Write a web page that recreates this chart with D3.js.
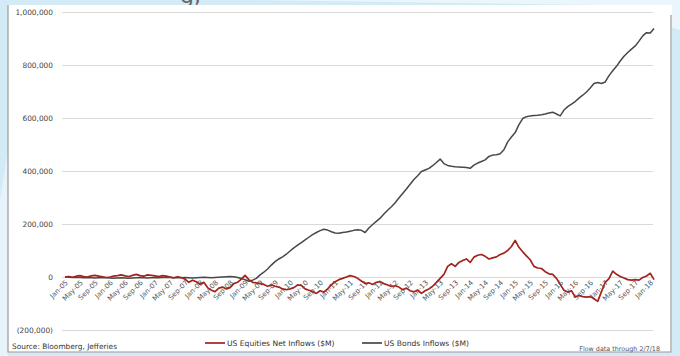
<!DOCTYPE html>
<html>
<head>
<meta charset="utf-8">
<script src="https://cdn.jsdelivr.net/npm/d3@7"></script>
<style>
  body { margin: 0; padding: 0; background: #d3ebf6; }
  svg { display: block; font-family: "DejaVu Sans", "Open Sans", sans-serif; }
</style>
</head>
<body>
<div id="chart"></div>
<script>
// DATA (monthly, Jan-05 .. Feb-18, values in $M)
let tick_labels = [
  "Jan-05", "May-05", "Sep-05", "Jan-06", "May-06", "Sep-06", "Jan-07", "May-07",
  "Sep-07", "Jan-08", "May-08", "Sep-08", "Jan-09", "May-09", "Sep-09", "Jan-10",
  "May-10", "Sep-10", "Jan-11", "May-11", "Sep-11", "Jan-12", "May-12", "Sep-12",
  "Jan-13", "May-13", "Sep-13", "Jan-14", "May-14", "Sep-14", "Jan-15", "May-15",
  "Sep-15", "Jan-16", "May-16", "Sep-16", "Jan-17", "May-17", "Sep-17", "Jan-18",
];

let y_ticks = [-200000, 0, 200000, 400000, 600000, 800000, 1000000];

// thousands of $M
let bonds_k = [
  0, -1, -2, -1, -2, -3, -2, -3, -4, -3, -2, -3, -4, -5, -4, -3,
  -4, -5, -4, -3, -2, -3, -4, -3, -2, -3, -2, -1, -2, -3, -2, -3,
  -2, -3, -4, -3, -2, -1, -2, -3, -2, -1, 0, 1, 2, 1, -2, -6,
  -10, -16, -12, -5, 8, 18, 30, 45, 58, 68, 76, 86, 98, 110, 120, 130,
  140, 150, 160, 168, 175, 180, 177, 171, 166, 165, 168, 170, 173, 176, 178, 176,
  168, 185, 198, 210, 222, 238, 252, 265, 280, 298, 315, 332, 350, 368, 382, 398,
  404, 410, 420, 432, 445, 428, 421, 418, 416, 415, 414, 413, 410, 422, 430, 436,
  442, 455, 460, 461, 465, 480, 510, 528, 545, 575, 598, 605, 608, 609, 610, 612,
  615, 619, 622, 615, 608, 630, 643, 652, 662, 675, 686, 698, 713, 730, 734, 730,
  736, 760, 778, 795, 815, 833, 847, 860, 872, 890, 910, 922, 921, 938,
];

let equities_k = [
  0, 2, -1, 3, 5, 2, 0, 4, 6, 3, 1, -2, 0, 3, 5, 8,
  4, 2, 6, 10, 5, 3, 8, 6, 4, 2, 5, 3, 0, -3, 1, -2,
  -8, -20, -12, -18, -28, -20, -40, -50, -55, -42, -38, -45, -40, -25, -20, -8,
  6, -10, -20, -22, -25, -28, -35, -30, -35, -38, -45, -48, -45, -40, -30, -32,
  -45, -50, -55, -62, -52, -57, -45, -30, -18, -10, -5, 0, 5, 2, -5, -15,
  -25, -22, -28, -20, -18, -25, -30, -36, -33, -38, -48, -42, -52, -56, -50, -62,
  -52, -45, -35, -20, -5, 10, 40, 50, 40, 55, 62, 68, 55, 75, 82, 85,
  78, 68, 72, 76, 85, 90, 100, 115, 138, 112, 95, 80, 65, 40, 34, 32,
  20, 12, 10, -5, -28, -50, -57, -52, -75, -70, -74, -76, -74, -82, -92, -55,
  -20, -6, 22, 10, 2, -4, -10, -12, -10, -12, -2, 4, 14, -10,
];

let series_names = ["US Equities Net Inflows ($M)", "US Bonds Inflows ($M)"];
let source_text = "Source: Bloomberg, Jefferies";
let note_text = "Flow data through 2/7/18";

// LAYOUT
let width = 680;
let height = 356;
let panel = { left: 8, top: 5, right: 672, bottom: 352 };

let svg = d3
  .select("#chart")
  .append("svg")
  .attr("width", width)
  .attr("height", height);

// slide background
svg.append("rect").attr("width", width).attr("height", height).attr("fill", "#d3ebf6");
svg
  .append("path")
  .attr("d", "M250,0 L680,0 L680,30 L600,5 Z")
  .attr("fill", "#eaf6fb");
svg
  .append("path")
  .attr("d", "M0,200 L8,150 L8,356 L0,356 Z")
  .attr("fill", "#e6f3fa");
// bottom of the slide title, cut off by the crop
svg
  .append("text")
  .attr("x", 180)
  .attr("y", 3)
  .attr("font-size", 22)
  .attr("fill", "#666")
  .text("g,");

// white chart panel
svg
  .append("rect")
  .attr("x", panel.left)
  .attr("y", panel.top)
  .attr("width", panel.right - panel.left)
  .attr("height", panel.bottom - panel.top)
  .attr("fill", "#ffffff");
svg
  .append("path")
  .attr("d", `M${panel.left},${panel.top} V${panel.bottom} H${panel.right - 1} V${panel.top + 10}`)
  .attr("fill", "none")
  .attr("stroke", "#9a9a9a")
  .attr("stroke-width", 1.2);

// SCALES
let x = d3.scaleLinear().domain([0, bonds_k.length - 1]).range([65, 654]);
let y = d3.scaleLinear().domain([-200000, 1000000]).range([330, 12]);

// gridlines + y labels
let y_axis = svg.append("g").attr("transform", "translate(62,0)");
y_axis.call(
  d3
    .axisLeft(y)
    .tickValues(y_ticks)
    .tickSize(-591)
    .tickPadding(9)
    .tickFormat((d) => (d < 0 ? "(" + d3.format(",")(-d) + ")" : d3.format(",")(d)))
);
y_axis.select(".domain").remove();
y_axis.selectAll(".tick line").attr("stroke", "#d9d9d9").attr("stroke-width", 1.2);
y_axis
  .selectAll(".tick text")
  .attr("fill", "#444")
  .attr("font-size", 7.4)
  .attr("font-family", "'DejaVu Sans', sans-serif");

// x axis labels, rotated
let x_axis = svg.append("g").attr("transform", "translate(0," + y(0) + ")");
x_axis.call(
  d3
    .axisBottom(x)
    .tickValues(d3.range(0, tick_labels.length * 4, 4))
    .tickSize(0)
    .tickPadding(0)
    .tickFormat((d) => tick_labels[d / 4])
);
x_axis.select(".domain").remove();
x_axis
  .selectAll(".tick text")
  .attr("fill", "#555")
  .attr("font-size", 7)
  .attr("font-family", "'DejaVu Sans', sans-serif")
  .attr("text-anchor", "end")
  .attr("dy", 0)
  .attr("transform", "translate(3,6) rotate(-45)");

// LINES
let line = d3
  .line()
  .x((d, i) => x(i))
  .y((d) => y(d * 1000));

svg
  .append("path")
  .datum(bonds_k)
  .attr("fill", "none")
  .attr("stroke", "#484848")
  .attr("stroke-width", 1.5)
  .attr("stroke-linejoin", "round")
  .attr("d", line);

svg
  .append("path")
  .datum(equities_k)
  .attr("fill", "none")
  .attr("stroke", "#a3231d")
  .attr("stroke-width", 1.7)
  .attr("stroke-linejoin", "round")
  .attr("d", line);

// LEGEND
let legend_items = [
  { name: series_names[0], color: "#a3231d", x: 205 },
  { name: series_names[1], color: "#484848", x: 362 },
];
let legend = svg
  .selectAll(".legend")
  .data(legend_items)
  .enter()
  .append("g")
  .attr("class", "legend")
  .attr("transform", (d) => "translate(" + d.x + ",343)");
legend
  .append("line")
  .attr("x1", 0)
  .attr("x2", 20)
  .attr("stroke", (d) => d.color)
  .attr("stroke-width", 1.7);
legend
  .append("text")
  .attr("x", 22)
  .attr("dy", "0.35em")
  .attr("font-size", 7.6)
  .attr("fill", "#333")
  .text((d) => d.name);

// footer texts
svg
  .append("text")
  .attr("x", 12)
  .attr("y", 349)
  .attr("font-size", 7.4)
  .attr("fill", "#333")
  .text(source_text);
svg
  .append("text")
  .attr("x", 660)
  .attr("y", 351)
  .attr("text-anchor", "end")
  .attr("font-size", 6.4)
  .attr("fill", "#555")
  .text(note_text);
</script>
</body>
</html>
